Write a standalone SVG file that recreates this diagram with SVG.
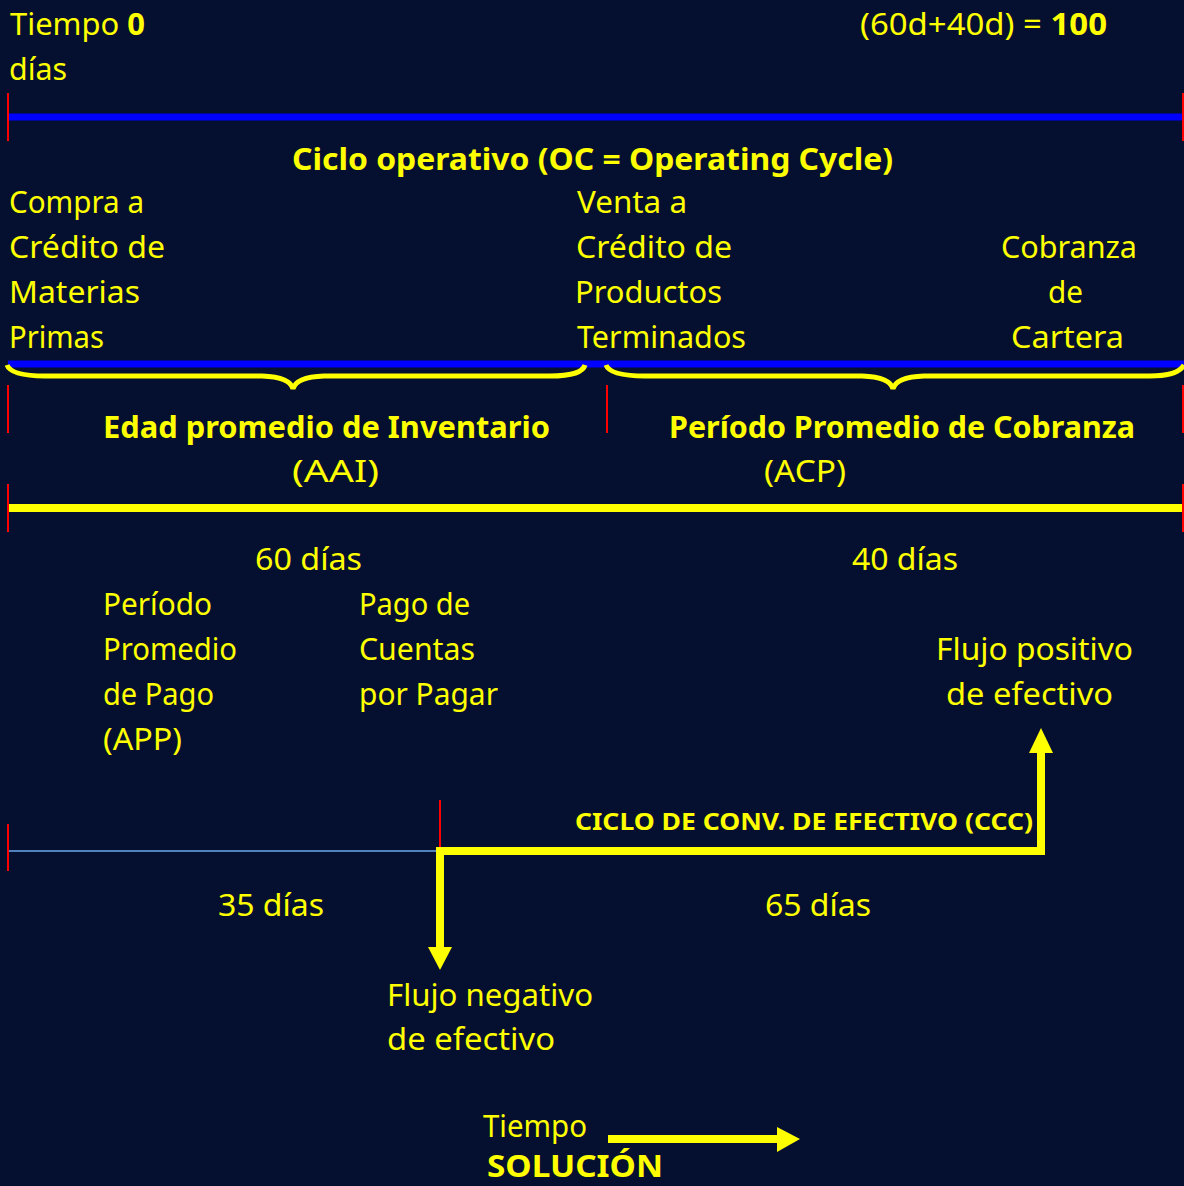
<svg xmlns="http://www.w3.org/2000/svg" width="1184" height="1186" viewBox="0 0 1184 1186">
<style>
text{font-family:"Comic Sans MS","Noto Sans","DejaVu Sans",sans-serif;fill:#FFFF00;font-size:30px}
.b{font-weight:bold}
.s{font-size:24px;font-weight:bold}
.tick{stroke:#FF0000;stroke-width:2}
.blue{stroke:#0000FF;stroke-width:7}
.yl{stroke:#FFFF00;stroke-width:8;fill:none}
.brace{stroke:#FFFF00;stroke-width:5;fill:none}
</style>
<rect width="1184" height="1186" fill="#050F30"/>

<g id="connectors">
<line class="blue" x1="8" y1="117" x2="1184" y2="117"/>
<line class="blue" x1="8" y1="364" x2="1184" y2="364"/>
<line x1="8" y1="508" x2="1184" y2="508" stroke="#FFFF00" stroke-width="8"/>
<path class="brace" d="M7 365 Q11 376 45 376 L262 376 Q290 377 293 389 Q296 377 324 376 L550 376 Q582 376 585 365"/>
<path class="brace" d="M606 365 Q610 376 645 376 L862 376 Q890 377 893 389 Q896 377 924 376 L1150 376 Q1178 376 1184 365"/>
<line class="tick" x1="8" y1="93" x2="8" y2="141"/>
<line class="tick" x1="1183" y1="93" x2="1183" y2="141"/>
<line class="tick" x1="8" y1="385" x2="8" y2="433"/>
<line class="tick" x1="607" y1="385" x2="607" y2="433"/>
<line class="tick" x1="1183" y1="385" x2="1183" y2="433"/>
<line class="tick" x1="8" y1="484" x2="8" y2="532"/>
<line class="tick" x1="1183" y1="484" x2="1183" y2="532"/>
<line x1="8" y1="851" x2="440" y2="851" stroke="#4F81BD" stroke-width="2"/>
<line class="tick" x1="8" y1="824" x2="8" y2="871"/>
<line class="tick" x1="440" y1="800" x2="440" y2="848"/>
<path class="yl" d="M436 851 L1041 851 L1041 750"/>
<polygon points="1029,753 1053,753 1041,728" fill="#FFFF00"/>
<path class="yl" d="M440 848 L440 950"/>
<polygon points="428,947 452,947 440,970" fill="#FFFF00"/>
<line x1="608" y1="1139" x2="780" y2="1139" stroke="#FFFF00" stroke-width="8"/>
<polygon points="777,1127 800,1139 777,1152" fill="#FFFF00"/>
</g>

<g id="header">
<text x="10" y="35" textLength="135" lengthAdjust="spacingAndGlyphs">Tiempo <tspan class="b">0</tspan></text>
<text x="9" y="80" textLength="58" lengthAdjust="spacingAndGlyphs">días</text>
<text x="860" y="35" textLength="247" lengthAdjust="spacingAndGlyphs">(60d+40d) = <tspan class="b">100</tspan></text>
<text class="b" x="292" y="170" textLength="601" lengthAdjust="spacingAndGlyphs">Ciclo operativo (OC = Operating Cycle)</text>
</g>

<g id="compra">
<text x="9" y="213" textLength="135" lengthAdjust="spacingAndGlyphs">Compra a</text>
<text x="9" y="258" textLength="156" lengthAdjust="spacingAndGlyphs">Crédito de</text>
<text x="9" y="303" textLength="131" lengthAdjust="spacingAndGlyphs">Materias</text>
<text x="9" y="348" textLength="95" lengthAdjust="spacingAndGlyphs">Primas</text>
</g>

<g id="venta">
<text x="577" y="213" textLength="110" lengthAdjust="spacingAndGlyphs">Venta a</text>
<text x="576" y="258" textLength="156" lengthAdjust="spacingAndGlyphs">Crédito de</text>
<text x="575" y="303" textLength="147" lengthAdjust="spacingAndGlyphs">Productos</text>
<text x="577" y="348" textLength="169" lengthAdjust="spacingAndGlyphs">Terminados</text>
</g>

<g id="cobranza">
<text x="1001" y="258" textLength="136" lengthAdjust="spacingAndGlyphs">Cobranza</text>
<text x="1048" y="303" textLength="35" lengthAdjust="spacingAndGlyphs">de</text>
<text x="1011" y="348" textLength="113" lengthAdjust="spacingAndGlyphs">Cartera</text>
</g>

<g id="aai">
<text class="b" x="103" y="438" textLength="447" lengthAdjust="spacingAndGlyphs">Edad promedio de Inventario</text>
<text x="292" y="482" textLength="87" lengthAdjust="spacingAndGlyphs">(AAI)</text>
</g>

<g id="acp">
<text class="b" x="669" y="438" textLength="466" lengthAdjust="spacingAndGlyphs">Período Promedio de Cobranza</text>
<text x="764" y="482" textLength="82" lengthAdjust="spacingAndGlyphs">(ACP)</text>
</g>

<g id="dias60">
<text x="255" y="570" textLength="107" lengthAdjust="spacingAndGlyphs">60 días</text>
</g>
<g id="dias40">
<text x="852" y="570" textLength="106" lengthAdjust="spacingAndGlyphs">40 días</text>
</g>

<g id="app">
<text x="103" y="615" textLength="109" lengthAdjust="spacingAndGlyphs">Período</text>
<text x="103" y="660" textLength="134" lengthAdjust="spacingAndGlyphs">Promedio</text>
<text x="103" y="705" textLength="111" lengthAdjust="spacingAndGlyphs">de Pago</text>
<text x="103" y="750" textLength="79" lengthAdjust="spacingAndGlyphs">(APP)</text>
</g>

<g id="pago">
<text x="359" y="615" textLength="111" lengthAdjust="spacingAndGlyphs">Pago de</text>
<text x="359" y="660" textLength="116" lengthAdjust="spacingAndGlyphs">Cuentas</text>
<text x="359" y="705" textLength="139" lengthAdjust="spacingAndGlyphs">por Pagar</text>
</g>

<g id="flujo-positivo">
<text x="936" y="660" textLength="197" lengthAdjust="spacingAndGlyphs">Flujo positivo</text>
<text x="946" y="705" textLength="167" lengthAdjust="spacingAndGlyphs">de efectivo</text>
</g>

<g id="ccc">
<text class="s" x="575" y="830" textLength="458" lengthAdjust="spacingAndGlyphs">CICLO DE CONV. DE EFECTIVO (CCC)</text>
</g>

<g id="dias35">
<text x="218" y="916" textLength="106" lengthAdjust="spacingAndGlyphs">35 días</text>
</g>
<g id="dias65">
<text x="765" y="916" textLength="106" lengthAdjust="spacingAndGlyphs">65 días</text>
</g>

<g id="flujo-negativo">
<text x="387" y="1006" textLength="206" lengthAdjust="spacingAndGlyphs">Flujo negativo</text>
<text x="387" y="1050" textLength="168" lengthAdjust="spacingAndGlyphs">de efectivo</text>
</g>

<g id="tiempo">
<text x="483" y="1137" textLength="104" lengthAdjust="spacingAndGlyphs">Tiempo</text>
</g>

<g id="solucion">
<text class="b" x="487" y="1177" font-size="28" textLength="176" lengthAdjust="spacingAndGlyphs">SOLUCIÓN</text>
</g>
</svg>
